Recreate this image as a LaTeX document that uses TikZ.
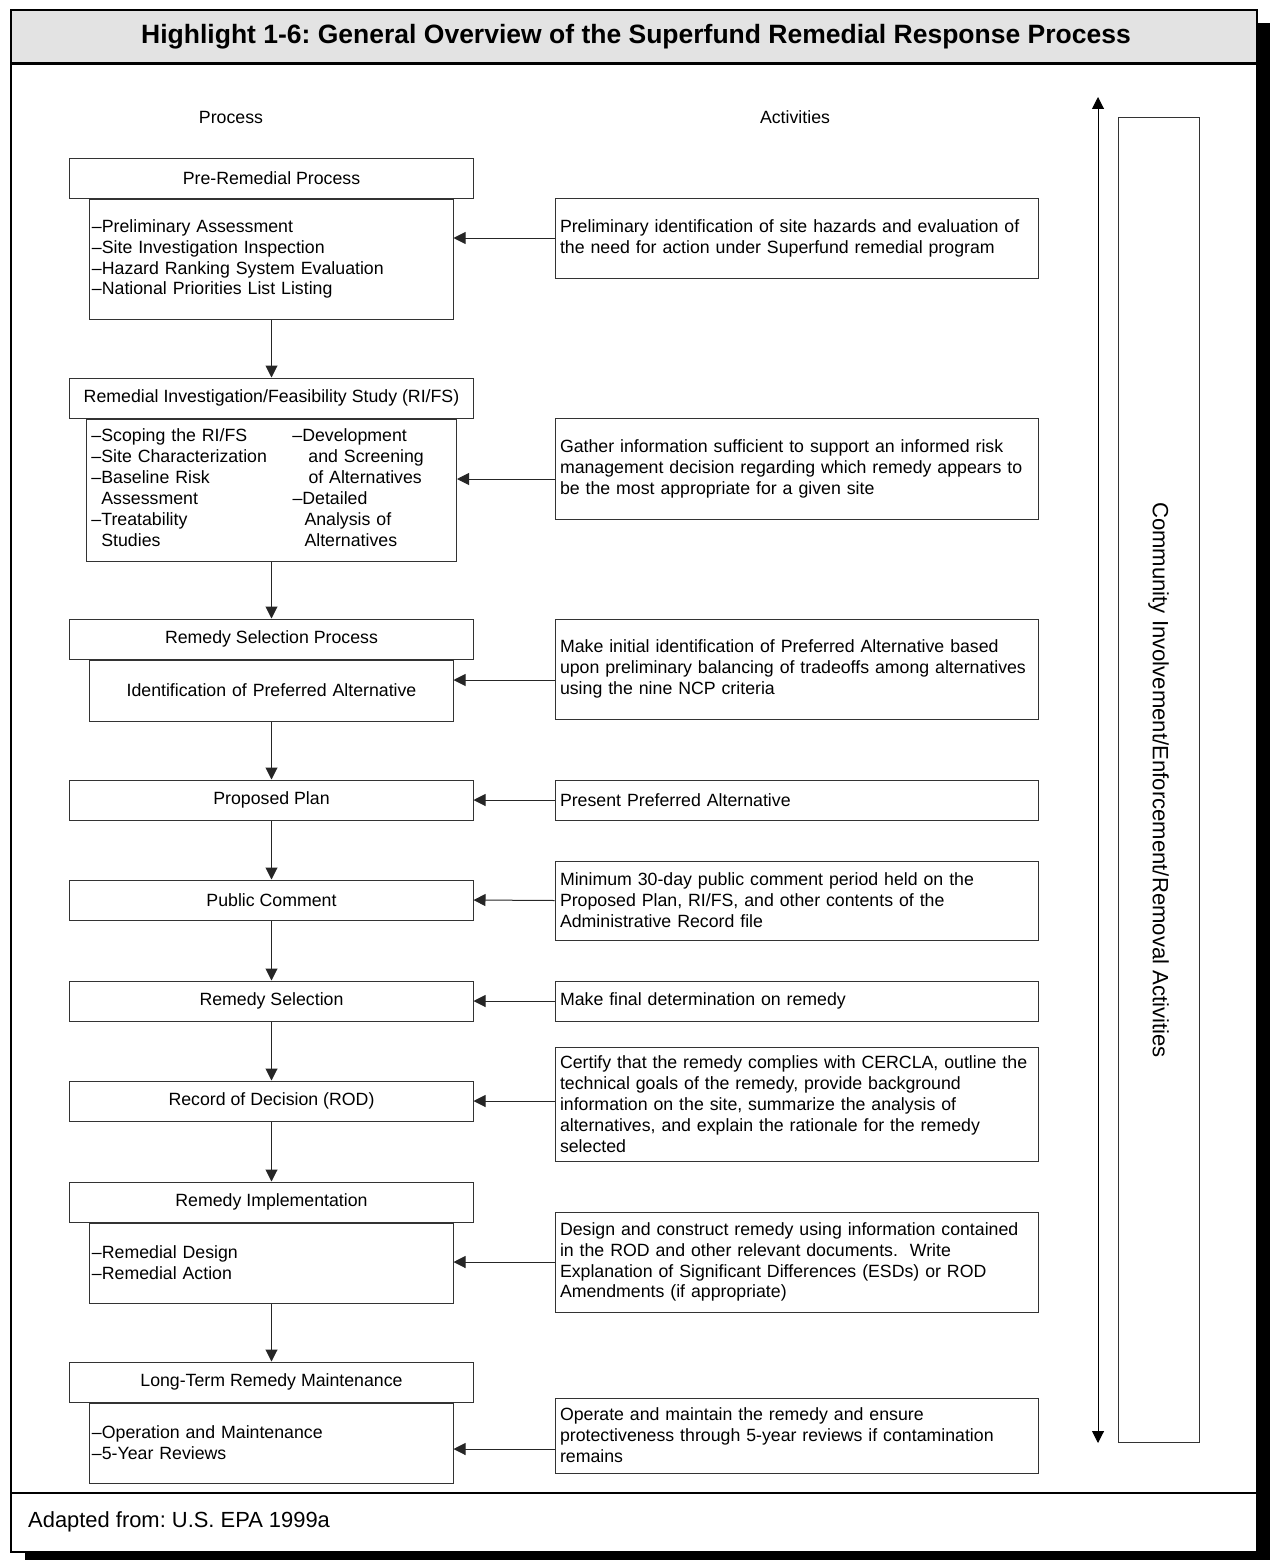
\documentclass[tikz,border=0pt]{standalone}
\usepackage{fontspec}
\setmainfont{Liberation Sans}
\usetikzlibrary{arrows.meta}
\frenchspacing

\begin{document}
\begin{tikzpicture}[x=1bp, y=-1bp,
  font=\fontsize{17.8}{21}\selectfont,
  hdr/.style={draw=black!80, line width=1bp, minimum width=403bp, minimum height=40bp, inner sep=0pt},
  sub/.style={draw=black!80, line width=1bp, minimum width=363bp, text width=359bp, inner xsep=2bp, inner ysep=0pt, align=left, anchor=north},
  act/.style={draw=black!80, line width=1bp, text width=473bp, inner xsep=5bp, inner ysep=0pt, align=left},
  arr/.style={-{Triangle[length=12bp,width=12bp]}, line width=1bp, black!85},
  dbl/.style={{Triangle[length=12bp,width=12bp]}-{Triangle[length=12bp,width=12bp]}, line width=1bp}]
\useasboundingbox (0,0) rectangle (1270,1560);

% Moldura e sombra
\fill[black] (25,1552) rectangle (1270,1560);
\fill[black] (1257,23) rectangle (1270,1560);
\fill[black!11] (11,10) rectangle (1257,64);
\draw[line width=2bp] (11,10) rectangle (1257,1552);
\draw[line width=3bp] (11,64) -- (1257,64);
\draw[line width=2.5bp] (11,1493) -- (1257,1493);

% Titulo
\node[font=\bfseries\fontsize{26.6}{30}\selectfont] (title) at (636,37) {Highlight 1-6: General Overview of the Superfund Remedial Response Process};

% Colunas
\node (proc) at (231,117) {Process};
\node (actv) at (795,117) {Activities};

% Pre-remedial
\node[hdr] (pre) at (271.5,178) {Pre-Remedial Process};
\node[sub, minimum height=120bp] (presub) at (pre.south) {--Preliminary Assessment\\--Site Investigation Inspection\\--Hazard Ranking System Evaluation\\--National Priorities List Listing};
\node[act, minimum height=80bp] (preact) at (796.5,238) {Preliminary identification of site hazards and evaluation of\\the need for action under Superfund remedial program};

% RI/FS
\node[hdr] (rifs) at (271.5,398) {Remedial Investigation/Feasibility Study (RI/FS)};
\node[sub, minimum width=370bp, text width=360bp, inner xsep=5bp, minimum height=142bp] (rifssub) at (rifs.south) {%
\begin{tabular}{@{}p{201bp}@{}l@{}}
--Scoping the RI/FS & --Development\\
--Site Characterization & \hspace*{16bp}and Screening\\
--Baseline Risk & \hspace*{16bp}of Alternatives\\
\phantom{--}Assessment & --Detailed\\
--Treatability & \hspace*{12bp}Analysis of\\
\phantom{--}Studies & \hspace*{12bp}Alternatives
\end{tabular}};
\node[act, minimum height=101bp] (rifsact) at (796.5,468.5) {Gather information sufficient to support an informed risk\\management decision regarding which remedy appears to\\be the most appropriate for a given site};

% Selecao do remedio
\node[hdr] (rsp) at (271.5,639) {Remedy Selection Process};
\node[sub, align=center, minimum height=61bp] (rspsub) at (rsp.south) {Identification of Preferred Alternative};
\node[act, minimum height=100bp] (rspact) at (796.5,669) {Make initial identification of Preferred Alternative based\\upon preliminary balancing of tradeoffs among alternatives\\using the nine NCP criteria};

% Etapas simples
\node[hdr] (pp) at (271.5,800) {Proposed Plan};
\node[act, minimum height=40bp] (ppact) at (796.5,800) {Present Preferred Alternative};
\node[hdr] (pc) at (271.5,900) {Public Comment};
\node[act, minimum height=79bp] (pcact) at (796.5,900.5) {Minimum 30-day public comment period held on the\\Proposed Plan, RI/FS, and other contents of the\\Administrative Record file};
\node[hdr] (rs) at (271.5,1001) {Remedy Selection};
\node[act, minimum height=40bp] (rsact) at (796.5,1001) {Make final determination on remedy};
\node[hdr] (rod) at (271.5,1101) {Record of Decision (ROD)};
\node[act, minimum height=114bp] (rodact) at (796.5,1104) {Certify that the remedy complies with CERCLA, outline the\\technical goals of the remedy, provide background\\information on the site, summarize the analysis of\\alternatives, and explain the rationale for the remedy\\selected};

% Implementacao
\node[hdr] (ri) at (271.5,1202) {Remedy Implementation};
\node[sub, minimum height=80bp] (risub) at (ri.south) {--Remedial Design\\--Remedial Action};
\node[act, minimum height=100bp] (riact) at (796.5,1262) {Design and construct remedy using information contained\\in the ROD and other relevant documents.\ \ Write\\Explanation of Significant Differences (ESDs) or ROD\\Amendments (if appropriate)};

% Manutencao
\node[hdr] (ltm) at (271.5,1382) {Long-Term Remedy Maintenance};
\node[sub, minimum height=80bp] (ltmsub) at (ltm.south) {--Operation and Maintenance\\--5-Year Reviews};
\node[act, minimum height=75bp] (ltmact) at (796.5,1435.5) {Operate and maintain the remedy and ensure\\protectiveness through 5-year reviews if contamination\\remains};

% Fluxo principal
\draw[arr] (presub.south) -- (rifs.north);
\draw[arr] (rifssub.south) -- (rsp.north);
\draw[arr] (rspsub.south) -- (pp.north);
\draw[arr] (pp.south) -- (pc.north);
\draw[arr] (pc.south) -- (rs.north);
\draw[arr] (rs.south) -- (rod.north);
\draw[arr] (rod.south) -- (ri.north);
\draw[arr] (risub.south) -- (ltm.north);

% Atividades
\draw[arr] (preact.west) -- (preact.west -| presub.east);
\draw[arr] (rifsact.west |- 0,479) -- (rifssub.east |- 0,479);
\draw[arr] (rspact.west |- 0,680) -- (rspsub.east |- 0,680);
\draw[arr] (ppact.west) -- (pp.east);
\draw[arr] (pcact.west) -- (pc.east);
\draw[arr] (rsact.west) -- (rs.east);
\draw[arr] (rodact.west |- rod.east) -- (rod.east);
\draw[arr] (riact.west) -- (riact.west -| risub.east);
\draw[arr] (ltmact.west |- 0,1449) -- (ltmsub.east |- 0,1449);

% Envolvimento da comunidade
\coordinate (ctop) at (1098,97);
\coordinate (cbot) at (1098,1443);
\draw[dbl] (cbot) -- (ctop);
\node[draw=black!80, line width=1bp, rotate=-90, minimum width=1324bp, minimum height=81bp, inner sep=0pt, font=\fontsize{22.2}{26}\selectfont] (comm) at (1158.5,780) {Community Involvement/Enforcement/Removal Activities};

% Fonte
\node[anchor=west, inner sep=0pt, font=\fontsize{22}{26}\selectfont] (src) at (28,1522) {Adapted from: U.S. EPA 1999a};
\end{tikzpicture}
\end{document}
